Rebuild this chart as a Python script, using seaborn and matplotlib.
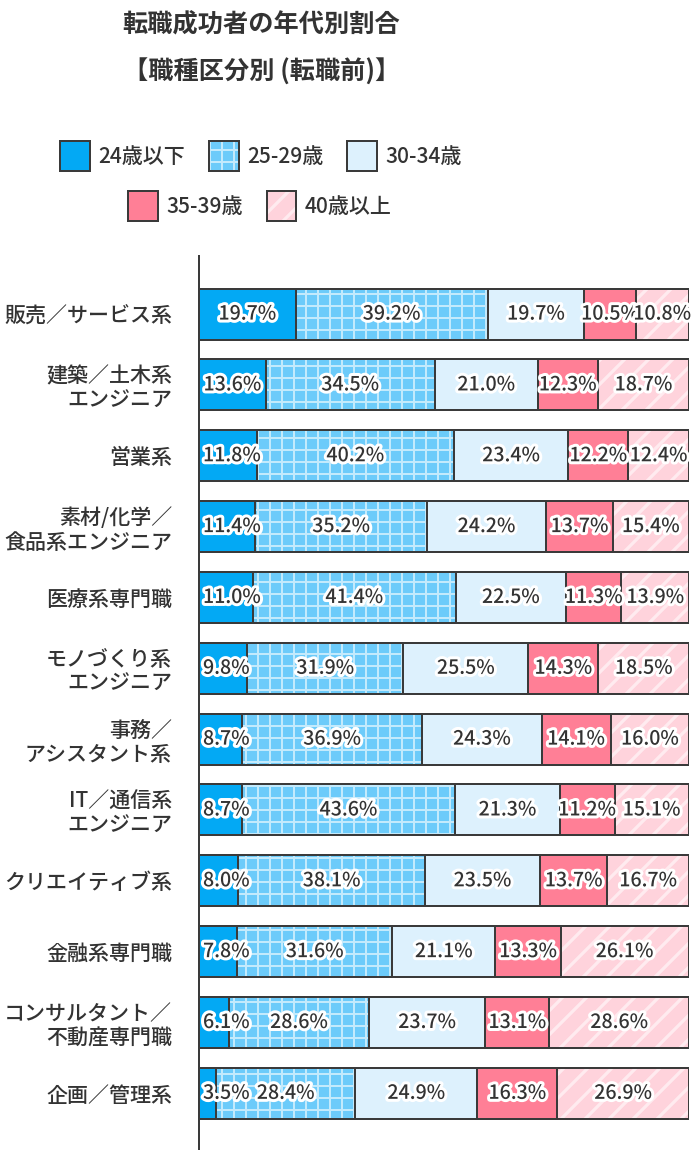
import matplotlib
matplotlib.use('Agg')
import matplotlib.pyplot as plt
import matplotlib.patheffects as pe
from matplotlib.patches import Patch
from matplotlib.colors import to_rgba
import seaborn as sns
import pandas as pd
import numpy as np

# データ
jobs = ['販売／サービス系', '建築／土木系\nエンジニア', '営業系', '素材/化学／\n食品系エンジニア',
        '医療系専門職', 'モノづくり系\nエンジニア', '事務／\nアシスタント系', 'IT／通信系\nエンジニア',
        'クリエイティブ系', '金融系専門職', 'コンサルタント／\n不動産専門職', '企画／管理系']
groups = ['24歳以下', '25-29歳', '30-34歳', '35-39歳', '40歳以上']
v_24 = [19.7, 13.6, 11.8, 11.4, 11.0, 9.8, 8.7, 8.7, 8.0, 7.8, 6.1, 3.5]
v_25 = [39.2, 34.5, 40.2, 35.2, 41.4, 31.9, 36.9, 43.6, 38.1, 31.6, 28.6, 28.4]
v_30 = [19.7, 21.0, 23.4, 24.2, 22.5, 25.5, 24.3, 21.3, 23.5, 21.1, 23.7, 24.9]
v_35 = [10.5, 12.3, 12.2, 13.7, 11.3, 14.3, 14.1, 11.2, 13.7, 13.3, 13.1, 16.3]
v_40 = [10.8, 18.7, 12.4, 15.4, 13.9, 18.5, 16.0, 15.1, 16.7, 26.1, 28.6, 26.9]

colors = ['#03A9F4', '#6CCBFA', '#DDF1FD', '#FF7F96', '#FFD3DC']
hatches = ['', '++', '', '', '//']
hatch_cols = [None, (1, 1, 1, 0.6), None, None, (1, 1, 1, 0.55)]
hatch_lw = [1.0, 1.0, 1.0, 1.0, 1.6]
EDGE = '#3a3a3a'
TXT = '#333333'

sns.set_style('white')
plt.rcParams['font.family'] = ['Noto Sans CJK JP', 'DejaVu Sans']
plt.rcParams['hatch.linewidth'] = 1.0

DPI = 144
fig = plt.figure(figsize=(691 / DPI, 1150 / DPI), dpi=DPI)
ax = fig.add_axes([199 / 691, 0, 490 / 691, 1 - 256 / 1150])

df = pd.DataFrame({'job': jobs, groups[0]: v_24, groups[1]: v_25, groups[2]: v_30,
                   groups[3]: v_35, groups[4]: v_40})


def fix_hatch(p, hc, lw):
    if hc is not None:
        p._hatch_color = to_rgba(hc)
    if hasattr(p, 'set_hatch_linewidth'):
        p.set_hatch_linewidth(lw)


starts = np.zeros(len(jobs))
labels_all = []
for g, c, h, hc, hl in zip(groups, colors, hatches, hatch_cols, hatch_lw):
    vals = df[g].to_numpy()
    sns.barplot(data=df, x=g, y='job', order=jobs, orient='y', color=c, saturation=1,
                width=0.72, left=starts, hatch=h, edgecolor=EDGE, linewidth=1.0,
                errorbar=None, ax=ax)
    cont = ax.containers[-1]
    for p in cont.patches:
        fix_hatch(p, hc, hl)
    anns = ax.bar_label(cont, labels=[f'{v:.1f}%' for v in vals], label_type='center',
                        fontsize=9.8, color=TXT, fontweight='medium',
                        path_effects=[pe.withStroke(linewidth=3, foreground='white')])
    labels_all.extend(anns)
    starts = starts + vals

ax.set_xlim(0, 100)
ax.set_ylim(11.8, -0.82)
ax.set_xlabel('')
ax.set_ylabel('')
ax.set_xticks([])
sns.despine(ax=ax, bottom=True)
ax.spines['left'].set_color(EDGE)
ax.spines['left'].set_linewidth(1.0)
ax.tick_params(axis='y', length=0, pad=13.5, labelsize=10.5, labelcolor=TXT)
for t in ax.get_yticklabels():
    t.set_linespacing(1.15)
    t.set_fontweight('medium')

# タイトル
fig.text(261 / 691, 1 - 25 / 1150, '転職成功者の年代別割合', ha='center', va='center',
         fontsize=12.6, fontweight='bold', color=TXT)
fig.text(262 / 691, 1 - 72 / 1150, '【職種区分別 (転職前)】', ha='center', va='center',
         fontsize=12.6, fontweight='bold', color=TXT)

# 凡例
handles = []
for c, h, hc, hl in zip(colors, hatches, hatch_cols, hatch_lw):
    p = Patch(facecolor=c, edgecolor=EDGE, hatch=h, linewidth=1.0)
    fix_hatch(p, hc, hl)
    handles.append(p)

leg_kw = dict(loc='center', frameon=False, labelcolor=TXT,
              handlelength=1.4, handleheight=1.8, handletextpad=0.4,
              columnspacing=1.15, borderpad=0, borderaxespad=0,
              prop={'weight': 'medium', 'size': 10.5})
leg1 = fig.legend(handles[:3], groups[:3], ncol=3,
                  bbox_to_anchor=(261 / 691, 1 - 156 / 1150), **leg_kw)
leg2 = fig.legend(handles[3:], groups[3:], ncol=2,
                  bbox_to_anchor=(260 / 691, 1 - 206 / 1150), **leg_kw)
for leg, hs in ((leg1, handles[:3]), (leg2, handles[3:])):
    for p, hp in zip(leg.get_patches(), hs):
        p._hatch_color = hp._hatch_color
        if hasattr(p, 'set_hatch_linewidth') and hasattr(hp, 'get_hatch_linewidth'):
            p.set_hatch_linewidth(hp.get_hatch_linewidth())

# はみ出したラベルを右へずらす
fig.canvas.draw()
r = fig.canvas.get_renderer()
left_px = ax.get_window_extent().x0
for a in labels_all:
    bb = a.get_window_extent(r)
    if bb.x0 < left_px + 4:
        dx = (left_px + 4 - bb.x0) * 72 / DPI
        a.xyann = (a.xyann[0] + dx, a.xyann[1])

fig.savefig('out.png', dpi=DPI)
